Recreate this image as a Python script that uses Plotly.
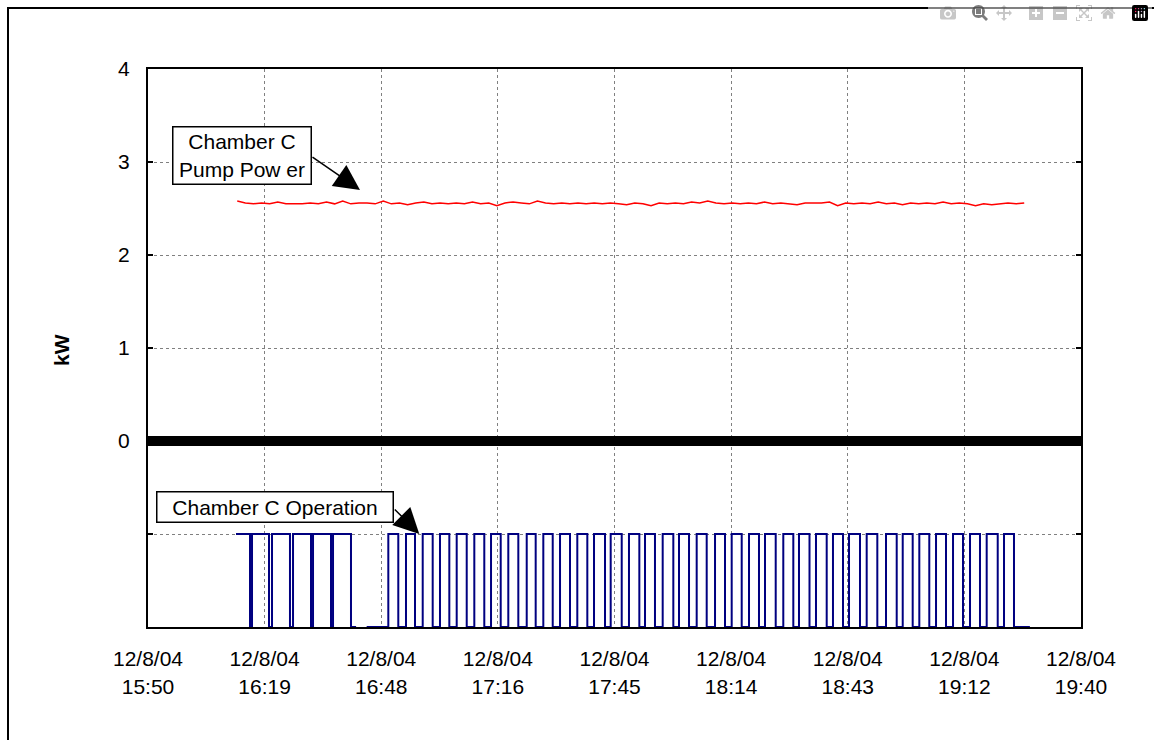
import pandas as pd
import plotly.graph_objects as go

# ---------------- data ----------------
start = pd.Timestamp("2004-12-08 15:50")

# Chamber C pump power (kW), sampled every 2 minutes from 16:12
power_start_min = 22
power_step_min = 2
pump_power_kw = [
    2.58, 2.56, 2.55, 2.56, 2.55, 2.57, 2.55, 2.55, 2.55, 2.56,
    2.55, 2.57, 2.55, 2.58, 2.55, 2.56, 2.56, 2.55, 2.58, 2.55,
    2.56, 2.54, 2.56, 2.57, 2.55, 2.56, 2.55, 2.56, 2.55, 2.57,
    2.55, 2.56, 2.53, 2.56, 2.57, 2.56, 2.55, 2.58, 2.56, 2.55,
    2.56, 2.55, 2.56, 2.55, 2.56, 2.55, 2.56, 2.55, 2.54, 2.56,
    2.55, 2.53, 2.56, 2.55, 2.56, 2.55, 2.57, 2.56, 2.58, 2.56,
    2.55, 2.56, 2.55, 2.56, 2.55, 2.57, 2.55, 2.56, 2.55, 2.54,
    2.56, 2.56, 2.56, 2.57, 2.53, 2.56, 2.55, 2.56, 2.55, 2.57,
    2.55, 2.56, 2.54, 2.56, 2.55, 2.56, 2.55, 2.57, 2.55, 2.56,
    2.55, 2.53, 2.55, 2.54, 2.55, 2.56, 2.55, 2.56,
]

# Chamber C operation: minutes after 15:50 when the chamber switched on / off
ON_LEVEL = -1
OFF_LEVEL = -2
group1_on = [21.7, 25.64, 30.57, 35.75, 40.68, 45.61]
group1_off = [25.14, 29.83, 35.0, 40.18, 45.11, 50.04]
group1_end = 51.3
group2_begin = 53.9
group2_on = [59.24, 63.60, 67.72, 71.98, 76.10, 80.44, 84.56, 88.82, 93.36, 97.45,
             101.57, 105.83, 109.95, 114.06, 118.57, 122.52, 126.88, 130.90, 135.26, 139.78,
             143.89, 148.16, 152.10, 156.61, 160.48, 164.67, 168.86, 172.81, 177.17, 181.93,
             186.05, 190.14, 194.26, 198.45, 202.64, 206.75, 211.02]
group2_off = [61.70, 65.82, 70.18, 74.28, 78.57, 82.90, 86.95, 91.29, 95.57, 99.77,
              104.03, 108.30, 112.66, 116.78, 121.12, 124.98, 129.50, 133.37, 137.73, 142.24,
              146.36, 150.62, 154.74, 159.08, 163.07, 167.31, 171.33, 175.52, 179.79, 184.57,
              188.51, 192.60, 196.72, 200.91, 205.10, 209.47, 213.48]
group2_end = 217.4

# x axis ticks (minutes after 15:50) and their labels
tick_minutes = [0, 28.75, 57.5, 86.25, 115, 143.75, 172.5, 201.25, 230]
tick_labels = ["12/8/04<br>15:50", "12/8/04<br>16:19", "12/8/04<br>16:48",
               "12/8/04<br>17:16", "12/8/04<br>17:45", "12/8/04<br>18:14",
               "12/8/04<br>18:43", "12/8/04<br>19:12", "12/8/04<br>19:40"]
y_tickvals = [-2, -1, 0, 1, 2, 3, 4]
y_ticktext = ["", "", "0", "1", "2", "3", "4"]

# ---------------- build ----------------
def t(m):
    return start + pd.Timedelta(minutes=m)

power_x = [t(power_start_min + i * power_step_min) for i in range(len(pump_power_kw))]

op_x, op_y = [], []
for on, off in zip(group1_on, group1_off):
    op_x += [t(on), t(off)]
    op_y += [ON_LEVEL, OFF_LEVEL]
op_x += [t(group1_end), None, t(group2_begin)]
op_y += [OFF_LEVEL, None, OFF_LEVEL]
for on, off in zip(group2_on, group2_off):
    op_x += [t(on), t(off)]
    op_y += [ON_LEVEL, OFF_LEVEL]
op_x += [t(group2_end)]
op_y += [OFF_LEVEL]

FONT = "Arial, Liberation Sans, sans-serif"
FS = 21

fig = go.Figure()
fig.add_trace(go.Scatter(x=power_x, y=pump_power_kw, mode="lines",
                         line=dict(color="#ff0000", width=1.5), showlegend=False))
fig.add_trace(go.Scatter(x=op_x, y=op_y, mode="lines", line_shape="hv",
                         line=dict(color="#000080", width=2), showlegend=False,
                         connectgaps=False))

# body margin is removed below, so page pixels == figure pixels
OFF = 0
W, H = 1154, 740
PL, PR, PT, PB = 148, 1081, 69, 627          # plot box in page pixels
L, T = PL - OFF, PT - OFF
R = W - (PR - OFF)
B = H - (PB - OFF)
pw, ph = PR - PL, PB - PT

def px(xp):
    return (xp - PL) / pw

def py(yp):
    return (PB - yp) / ph

MIN_PX = pw / 230.0
Y_PX = ph / 6.0

frame = dict(color="black", width=2)

fig.update_layout(
    width=W, height=H,
    margin=dict(l=L, r=R, t=T, b=B),
    paper_bgcolor="white", plot_bgcolor="white",
    font=dict(family=FONT, size=FS, color="black"),
    xaxis=dict(
        range=[t(0), t(230)],
        tickvals=[t(m) for m in tick_minutes], ticktext=tick_labels,
        showgrid=True, gridcolor="#808080", griddash="dot", gridwidth=1,
        showline=True, linecolor="black", linewidth=2, mirror=True,
        ticks="", zeroline=False, ticklabelstandoff=12,
    ),
    yaxis=dict(
        range=[-2, 4], tickvals=y_tickvals, ticktext=y_ticktext,
        showgrid=True, gridcolor="#808080", griddash="dot", gridwidth=1,
        showline=True, linecolor="black", linewidth=2, mirror="ticks",
        ticks="inside", ticklen=5, tickwidth=1.5, tickcolor="black",
        zeroline=False, ticklabelstandoff=12,
    ),
    shapes=[
        dict(type="line", xref="paper", yref="y", x0=0, x1=1, y0=0, y1=0,
             line=dict(color="black", width=10)),
        dict(type="line", xref="paper", yref="paper",
             x0=px(8), x1=px(8), y0=py(7), y1=py(760), line=frame),
        dict(type="line", xref="paper", yref="paper",
             x0=px(7), x1=px(1160), y0=py(8), y1=py(8), line=frame),
    ],
    annotations=[
        dict(text="<b>kW</b>", xref="paper", yref="paper", x=px(62), y=py(350),
             xanchor="center", yanchor="middle",
             textangle=-90, showarrow=False, font=dict(size=FS)),
        dict(text="Chamber C<br>Pump Pow er", xref="paper", yref="paper",
             x=px(241.5), y=py(155.5), xanchor="center", yanchor="middle",
             showarrow=False, bgcolor="white", bordercolor="black", borderwidth=1.5,
             borderpad=1, width=135, height=54, font=dict(size=FS)),
        dict(text="", x=t((360 - PL) / MIN_PX), y=2 + (256 - 191) / Y_PX,
             xref="x", yref="y", showarrow=True, ax=-49, ay=-34,
             arrowhead=2, arrowsize=3.4, arrowwidth=1.5, arrowcolor="black", standoff=0),
        dict(text="Chamber C Operation", xref="paper", yref="paper",
             x=px(274.5), y=py(507), xanchor="center", yanchor="middle",
             showarrow=False, bgcolor="white", bordercolor="black", borderwidth=1.5,
             borderpad=1, width=233, height=27, font=dict(size=FS)),
        dict(text="", x=t((419.3 - PL) / MIN_PX), y=-1,
             xref="x", yref="y", showarrow=True, ax=-26, ay=-26,
             arrowhead=2, arrowsize=3.4, arrowwidth=1.5, arrowcolor="black", standoff=0),
    ],
)

fig.write_html(
    "out.html",
    post_script="document.body.style.margin='0';"
                "document.documentElement.style.overflow='hidden';"
                "document.body.style.overflow='hidden';",
)
